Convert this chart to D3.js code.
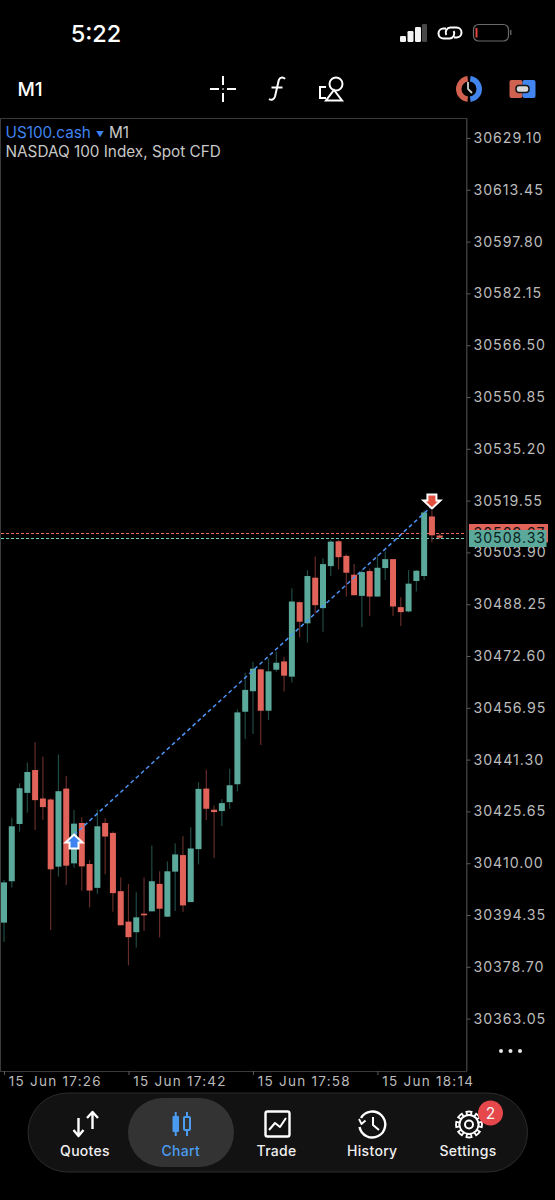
<!DOCTYPE html>
<html>
<head>
<meta charset="utf-8">
<title>US100.cash M1</title>
<script src="https://cdn.jsdelivr.net/npm/d3@7/dist/d3.min.js"></script>
<style>
html,body{margin:0;padding:0;background:#000;overflow:hidden}
svg{display:block}
text{font-family:Inter,"Liberation Sans",sans-serif}
</style>
</head>
<body>
<svg id="app" width="555" height="1200"></svg>
<script>
// One-minute candles, oldest first
const opens = [30392.05,30404.55,30421.85,30431.25,30438.15,30429.55,30429.25,30408.95,30432.55,30409.95,30422.15,30409.75,30402.55,30422.15,30419.15,30401.55,30392.35,30389.15,30394.75,30395.45,30403.75,30393.85,30407.45,30412.45,30398.25,30414.25,30432.55,30426.15,30425.75,30428.45,30433.85,30455.76,30461.96,30468.56,30456.06,30468.46,30470.96,30466.36,30488.86,30482.46,30496.26,30487.06,30499.76,30507.26,30502.86,30497.16,30490.76,30498.26,30490.56,30499.16,30501.86,30487.36,30486.06,30495.26,30496.76,30514.76,30509.00];
const highs = [30404.90,30423.75,30434.15,30440.45,30446.55,30442.15,30429.65,30442.85,30436.35,30426.05,30423.85,30410.95,30426.25,30423.55,30419.55,30405.65,30403.75,30401.25,30405.65,30415.35,30407.55,30410.55,30415.95,30418.15,30420.85,30434.45,30438.25,30427.45,30429.35,30438.55,30456.46,30467.56,30470.86,30468.76,30471.86,30473.96,30472.36,30493.06,30489.06,30498.56,30502.66,30502.16,30507.66,30507.66,30503.36,30500.36,30498.56,30499.06,30503.16,30504.16,30501.86,30490.36,30498.56,30498.56,30516.56,30516.56,30509.46];
const lows = [30386.20,30402.65,30419.55,30425.25,30420.05,30423.05,30389.85,30405.95,30403.45,30408.65,30401.65,30396.65,30400.75,30406.65,30395.35,30391.25,30379.15,30384.55,30389.55,30395.45,30387.55,30393.85,30395.55,30395.25,30398.25,30409.65,30423.05,30411.65,30421.25,30426.45,30431.65,30447.50,30449.00,30445.70,30453.26,30467.86,30461.86,30464.56,30478.16,30476.66,30485.46,30479.96,30496.76,30498.76,30490.56,30490.96,30481.26,30484.66,30490.56,30495.56,30484.66,30481.66,30485.76,30492.06,30495.56,30506.86,30507.86];
const closes = [30404.20,30421.15,30432.65,30437.55,30429.05,30426.95,30408.15,30431.75,30409.25,30421.95,30409.05,30401.75,30421.15,30418.05,30400.95,30391.25,30387.65,30393.65,30394.25,30404.55,30396.25,30407.55,30412.65,30397.25,30414.45,30432.45,30426.45,30425.45,30428.15,30433.55,30455.56,30462.36,30468.76,30456.06,30467.96,30470.56,30466.66,30489.06,30482.96,30496.76,30487.96,30500.36,30507.16,30502.46,30497.76,30490.96,30497.96,30490.56,30499.26,30501.86,30487.56,30485.86,30494.46,30498.36,30515.96,30509.06,30508.33];

const priceTicks = [30629.10,30613.45,30597.80,30582.15,30566.50,30550.85,30535.20,30519.55,30503.90,30488.25,30472.60,30456.95,30441.30,30425.65,30410.00,30394.35,30378.70,30363.05];
const timeTickBars = [0,16,32,48];
const timeTickLabels = ["15 Jun 17:26","15 Jun 17:42","15 Jun 17:58","15 Jun 18:14"];

const bidPrice = 30508.33;
const askPrice = 30509.67;
const tradeBars = [9,55];
const tradePrices = [30418.5,30517.9];

const navItems = ["Quotes","Chart","Trade","History","Settings"];

const UP = "#5aa99b", DOWN = "#e2635a", UP_WICK = "#1f4a43", DOWN_WICK = "#642d29";
const BLUE = "#3f83f0", AXIS_TEXT = "#bcbcbc", FRAME = "#3a3a3a";
const PRICE_FONT = 14.2, PRICE_SPACING = 0.95;

const svg = d3.select("#app");
const x = d3.scaleLinear().domain([0, closes.length - 1]).range([4, 439.7]);
const y = d3.scaleLinear().domain([30629.10, 30363.05]).range([138, 1018.6]);

/* ---------- status bar ---------- */
const status = svg.append("g");
status.append("text").attr("x",96).attr("y",41.5).attr("text-anchor","middle")
  .attr("fill","#fff").attr("font-size",23.5).attr("font-weight",500).text("5:22");
[[400,36,6,.95],[407.5,31,6,.95],[415,27,6,.95],[422,24,5,.28]].forEach(([bx,by,w,o])=>{
  status.append("rect").attr("x",bx).attr("y",by).attr("width",w).attr("height",42-by)
    .attr("rx",1.2).attr("fill","#fff").attr("opacity",o);
});
status.append("path").attr("d","M446 28.5h-2.5a5 5 0 0 0 0 10h6a5 5 0 0 0 4.2-7.4M454 37.5h2.5a5 5 0 0 0 0-10h-6a5 5 0 0 0-4.2 7.4")
  .attr("fill","none").attr("stroke","#fff").attr("stroke-width",2);
status.append("rect").attr("x",473.5).attr("y",24.5).attr("width",35).attr("height",16.5).attr("rx",5)
  .attr("fill","none").attr("stroke","#6a6a6a").attr("stroke-width",1.2);
status.append("rect").attr("x",475.5).attr("y",28).attr("width",2).attr("height",9.5).attr("fill","#e0443c");
status.append("rect").attr("x",510).attr("y",30).attr("width",1.5).attr("height",5).attr("fill","#5a5a5a");

/* ---------- toolbar ---------- */
const bar = svg.append("g");
bar.append("text").attr("x",17.5).attr("y",96).attr("fill","#fff").attr("font-size",19).attr("font-weight",500).text("M1");
bar.append("path").attr("d","M210 89h9M227 89h9M223 76v9M223 93v9M223 88.5v1")
  .attr("stroke","#fff").attr("stroke-width",2).attr("fill","none");
bar.append("path").attr("d","M285 79c-1.5-2.2-5-2.4-6.2 1L275 96.5c-1 3.2-3.6 4-6 2.5M271.5 87.5h11")
  .attr("fill","none").attr("stroke","#fff").attr("stroke-width",2);
bar.append("circle").attr("cx",336).attr("cy",84).attr("r",6.5).attr("fill","none").attr("stroke","#fff").attr("stroke-width",2);
bar.append("path").attr("d","M326 87h-6v11h6").attr("fill","none").attr("stroke","#fff").attr("stroke-width",2);
bar.append("path").attr("d","M334 90L342 100.5H326Z").attr("fill","none").attr("stroke","#fff").attr("stroke-width",2);
// coloured shortcut buttons
const arc13 = d3.arc().innerRadius(7.5).outerRadius(13);
bar.append("path").attr("transform","translate(469,89)").attr("fill","#d2614f")
  .attr("d",arc13({startAngle:Math.PI*1.04,endAngle:Math.PI*1.96}));
bar.append("path").attr("transform","translate(469,89)").attr("fill","#4285ee")
  .attr("d",arc13({startAngle:Math.PI*.04,endAngle:Math.PI*.96}));
bar.append("path").attr("d","M468 82v7l4 4").attr("fill","none").attr("stroke","#d0d0d0").attr("stroke-width",1.8);
bar.append("rect").attr("x",509.5).attr("y",80).attr("width",13).attr("height",18).attr("rx",2).attr("fill","#cf6250");
bar.append("rect").attr("x",522.5).attr("y",80).attr("width",13).attr("height",18).attr("rx",2).attr("fill","#4285ee");
bar.append("rect").attr("x",516).attr("y",85.5).attr("width",13).attr("height",7).attr("rx",3)
  .attr("fill","#d8d8d8").attr("stroke","#161616").attr("stroke-width",1.5);

/* ---------- chart frame and captions ---------- */
svg.append("rect").attr("x",0.5).attr("y",118.5).attr("width",466).attr("height",953)
  .attr("fill","none").attr("stroke",FRAME);
const cap = svg.append("g").attr("font-size",15.3);
cap.append("text").attr("x",5.5).attr("y",138).attr("fill",BLUE).text("US100.cash");
cap.append("text").attr("x",100).attr("y",137).attr("text-anchor","middle").attr("fill",BLUE).attr("font-size",8).text("▼");
cap.append("text").attr("x",109).attr("y",138).attr("fill","#c8c8c8").text("M1");
cap.append("text").attr("x",5.5).attr("y",157).attr("fill","#c8c8c8").text("NASDAQ 100 Index, Spot CFD");

/* ---------- current price lines ---------- */
[[askPrice,"#f0685c"],[bidPrice,"#6fd0bc"]].forEach(([p,c])=>{
  const py = Math.round(y(p)) + 0.5;
  svg.append("line").attr("x1",1).attr("x2",466).attr("y1",py).attr("y2",py)
    .attr("stroke",c).attr("stroke-width",1).attr("stroke-dasharray","3 2");
});

/* ---------- candles ---------- */
const bars = d3.range(closes.length);
const candles = svg.append("g");
candles.selectAll("line").data(bars).join("line")
  .attr("x1",i=>x(i)).attr("x2",i=>x(i))
  .attr("y1",i=>y(highs[i])).attr("y2",i=>y(lows[i]))
  .attr("stroke",i=>closes[i]>=opens[i]?UP_WICK:DOWN_WICK).attr("stroke-width",1.2);
candles.selectAll("rect").data(bars).join("rect")
  .attr("x",i=>x(i)-3).attr("width",6)
  .attr("y",i=>y(Math.max(opens[i],closes[i])))
  .attr("height",i=>Math.max(1.6,Math.abs(y(opens[i])-y(closes[i]))))
  .attr("fill",i=>closes[i]>=opens[i]?UP:DOWN);

/* ---------- trade connector and arrows ---------- */
svg.append("line")
  .attr("x1",x(tradeBars[0])).attr("y1",y(tradePrices[0]))
  .attr("x2",x(tradeBars[1])).attr("y2",y(tradePrices[1]))
  .attr("stroke","#4d94f5").attr("stroke-width",1.5).attr("stroke-dasharray","4 3");
const arrow = (cx,cy,dir,fill)=>{
  const s = dir;
  svg.append("path")
    .attr("d",`M${cx} ${cy-7.5*s}L${cx+8.5} ${cy+0.5*s}H${cx+4.5}V${cy+6.5*s}H${cx-4.5}V${cy+0.5*s}H${cx-8.5}Z`)
    .attr("fill",fill).attr("stroke","#fff").attr("stroke-width",2).attr("stroke-linejoin","miter");
};
arrow(x(tradeBars[0]),842,1,"#3f83f0");
arrow(x(tradeBars[1]),501,-1,"#e2503f");

/* ---------- price axis ---------- */
const yAxis = svg.append("g").attr("transform","translate(466.5,0)")
  .call(d3.axisRight(y).tickValues(priceTicks).tickFormat(d3.format(".2f")).tickSize(4).tickPadding(3));
yAxis.select(".domain").attr("stroke",FRAME).attr("d","M0.5,118V1071");
yAxis.selectAll(".tick line").attr("stroke","#5a5a5a");
yAxis.selectAll(".tick text").attr("fill",AXIS_TEXT).attr("font-size",PRICE_FONT)
  .attr("letter-spacing",PRICE_SPACING).attr("font-family","Inter,sans-serif");

/* ---------- last price tags ---------- */
const askTag = svg.append("g");
askTag.append("rect").attr("x",469).attr("y",524).attr("width",79).attr("height",18.5).attr("fill",DOWN);
askTag.append("text").attr("x",473.5).attr("y",538).attr("font-size",PRICE_FONT).attr("letter-spacing",PRICE_SPACING)
  .attr("fill","#111").text(d3.format(".2f")(askPrice));
const bidTag = svg.append("g");
bidTag.append("rect").attr("x",469).attr("y",530).attr("width",77.5).attr("height",17).attr("fill",UP);
bidTag.append("text").attr("x",473.5).attr("y",543.2).attr("font-size",PRICE_FONT).attr("letter-spacing",PRICE_SPACING)
  .attr("fill","#0b1f1c").text(d3.format(".2f")(bidPrice));

/* ---------- time axis ---------- */
const xAxis = svg.append("g").attr("transform","translate(0,1071)")
  .call(d3.axisBottom(x).tickValues(timeTickBars).tickFormat((d,i)=>timeTickLabels[i]).tickSize(4).tickPadding(3));
xAxis.select(".domain").remove();
xAxis.selectAll(".tick line").attr("stroke","#5a5a5a");
xAxis.selectAll(".tick text").attr("text-anchor","start").attr("x",4.3).attr("y",5)
  .attr("fill",AXIS_TEXT).attr("font-size",13.5).attr("letter-spacing",1.25).attr("font-family","Inter,sans-serif");

// overflow menu dots
[501,510.5,520].forEach(cx=>svg.append("circle").attr("cx",cx).attr("cy",1051).attr("r",2).attr("fill","#e6e6e6"));

/* ---------- bottom navigation ---------- */
const nav = svg.append("g");
nav.append("rect").attr("x",28).attr("y",1093).attr("width",499.5).attr("height",79).attr("rx",39.5)
  .attr("fill","#121212").attr("stroke","#2c2c2c");
nav.append("rect").attr("x",128).attr("y",1098).attr("width",106).attr("height",69).attr("rx",34.5).attr("fill","#333333");
const navX = d3.scalePoint().domain(navItems).range([85,468]);
nav.selectAll("text.lbl").data(navItems).join("text").attr("class","lbl")
  .attr("x",d=>navX(d)).attr("y",1156).attr("text-anchor","middle").attr("font-size",14)
  .attr("font-weight",500).attr("letter-spacing",0.3)
  .attr("fill",d=>d==="Chart"?"#4b9cf0":"#efefef").text(d=>d);

const ic = nav.append("g").attr("fill","none").attr("stroke","#fff").attr("stroke-width",2.4);
// quotes arrows
ic.append("path").attr("d","M78.5 1118v18M73.5 1130l5 6 5-6M92.5 1129v-17M87 1118l5.5-6 5.5 6");
// chart candles
nav.append("rect").attr("x",172.5).attr("y",1116).attr("width",6.5).attr("height",16).attr("rx",1).attr("fill","#4b9cf0");
nav.append("path").attr("d","M175.7 1112v24M187 1112v24").attr("stroke","#4b9cf0").attr("stroke-width",2);
nav.append("rect").attr("x",184).attr("y",1117).attr("width",6).attr("height",13).attr("rx",1)
  .attr("fill","#333").attr("stroke","#4b9cf0").attr("stroke-width",2);
// trade frame
ic.append("rect").attr("x",265.5).attr("y",1111.5).attr("width",24).attr("height",25).attr("rx",2);
ic.attr("stroke-linejoin","round");
ic.append("path").attr("d","M269 1130l6-7 5 4 6-9").attr("stroke-width",2);
// history clock
ic.append("path").attr("d","M361 1118a13 13 0 1 1-1.5 9");
ic.append("path").attr("d","M359 1119l2.5 5 4-3.5").attr("stroke-width",1.8);
ic.append("path").attr("d","M373 1117v8l6 5").attr("stroke-width",2);
// settings gear
const gear = nav.append("g").attr("transform","translate(469,1124.5)");
gear.selectAll("path").data(d3.range(8)).join("path")
  .attr("d",d3.arc().innerRadius(9.5).outerRadius(13).startAngle(-0.2).endAngle(0.2)())
  .attr("transform",i=>`rotate(${i*45})`).attr("fill","none").attr("stroke","#fff").attr("stroke-width",1.8);
gear.append("circle").attr("r",9.5).attr("fill","#121212").attr("stroke","#fff").attr("stroke-width",1.8);
gear.append("circle").attr("r",4).attr("fill","none").attr("stroke","#fff").attr("stroke-width",2);
nav.append("circle").attr("cx",490.5).attr("cy",1113).attr("r",12.5).attr("fill","#e5474b");
nav.append("text").attr("x",490.5).attr("y",1119).attr("text-anchor","middle").attr("fill","#f4f4f4").attr("font-size",15.5).text("2");
</script>
</body>
</html>
